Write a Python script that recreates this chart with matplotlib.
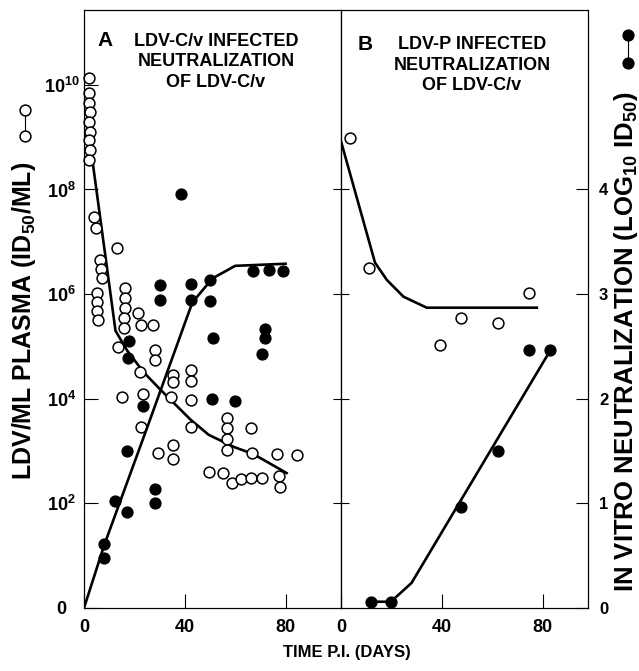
import matplotlib
matplotlib.use("Agg")
import matplotlib.pyplot as plt
from matplotlib.lines import Line2D

plt.rcParams['font.family'] = ['Liberation Sans', 'DejaVu Sans']
plt.rcParams['font.weight'] = 'bold'
plt.rcParams['mathtext.fontset'] = 'custom'
plt.rcParams['mathtext.rm'] = 'Liberation Sans:bold'
plt.rcParams['mathtext.bf'] = 'Liberation Sans:bold'
plt.rcParams['mathtext.it'] = 'Liberation Sans:bold'

# パネルA: LDV-C/v 感染 (血漿中ウイルス, log10 ID50/ml)
a_open_day = [2, 2, 2, 2.5, 2, 2.5, 2, 2.5, 2, 4.1, 4.9, 6.5, 6.9, 7.3,
              5.3, 5.3, 5.3, 5.6, 12.9, 16.2, 16.2, 16.2, 16.0, 16.0,
              21.5, 22.8, 27.2, 13.3, 28, 28, 22.4, 35.5, 35.5, 34.4,
              42.6, 42.6, 42.6, 15.2, 23.5, 22.7, 42.6, 35.5, 35.5, 29.3,
              56.6, 56.6, 56.6, 56.6, 66.4, 66.8, 76.5, 84.4, 49.5, 55,
              58.6, 62.5, 66.4, 70.8, 77.4, 77.8]
a_open_log = [10.13, 9.84, 9.65, 9.48, 9.29, 9.10, 8.95, 8.76, 8.57, 7.48,
              7.27, 6.65, 6.48, 6.31, 6.02, 5.85, 5.68, 5.51, 6.88, 6.12,
              5.93, 5.74, 5.54, 5.35, 5.64, 5.41, 5.41, 4.99, 4.93, 4.74,
              4.51, 4.45, 4.32, 4.03, 4.55, 4.34, 3.98, 4.03, 4.09, 3.46,
              3.46, 3.12, 2.85, 2.96, 3.63, 3.44, 3.23, 3.02, 3.44, 2.96,
              2.94, 2.93, 2.60, 2.58, 2.39, 2.47, 2.49, 2.49, 2.52, 2.31]
a_open_fit_day = [1.5, 3.5, 12.5, 17, 23.6, 30.4, 42.3, 49.5, 59.4, 67.3, 80.4]
a_open_fit_log = [9.9, 8.5, 5.3, 4.93, 4.51, 4.17, 3.6, 3.31, 3.08, 2.94, 2.58]

# パネルA: 中和抗体価 (log10 ID50)
a_fill_day = [7.8, 7.8, 12.5, 17.2, 28, 28, 17.2, 23.6, 17.7, 17.3, 30, 30,
              42.3, 42.3, 50.2, 50, 51.3, 51, 60, 72, 72, 70.8, 38.3, 67.2,
              73.4, 79]
a_fill_neut = [0.61, 0.48, 1.02, 0.92, 1.14, 1.00, 1.50, 1.93, 2.55, 2.39,
               3.09, 2.94, 3.10, 2.94, 3.13, 2.93, 2.58, 2.00, 1.98, 2.67,
               2.58, 2.43, 3.96, 3.22, 3.23, 3.22]
a_fill_fit_day = [0, 8, 25, 43, 51, 60, 80]
a_fill_fit_neut = [0, 0.6, 1.72, 2.92, 3.15, 3.27, 3.29]

# パネルB: LDV-P 感染
b_open_day = [3.6, 11.3, 39.3, 47.5, 62.4, 74.7]
b_open_log = [8.99, 6.5, 5.03, 5.54, 5.45, 6.02]
b_open_fit_day = [0, 13.5, 18.2, 24.8, 34, 77.7]
b_open_fit_log = [8.92, 6.6, 6.27, 5.95, 5.74, 5.74]

b_fill_day = [11.8, 19.8, 47.5, 62.4, 74.7, 83]
b_fill_neut = [0.06, 0.06, 0.97, 1.5, 2.47, 2.47]
b_fill_fit_day = [11.8, 19.8, 28, 82]
b_fill_fit_neut = [0.06, 0.06, 0.24, 2.42]

LOG_TOP = 11.43
W, H = 639, 671

fig = plt.figure(figsize=(W / 100, H / 100), dpi=100)
axA = fig.add_axes([84 / W, 63 / H, 257 / W, 598 / H])
axB = fig.add_axes([341 / W, 63 / H, 247 / W, 598 / H])

open_kw = dict(linestyle='none', marker='o', ms=7.8, mfc='white', mec='black',
               mew=1.1, clip_on=False, zorder=4)
fill_kw = dict(linestyle='none', marker='o', ms=7.8, mfc='black', mec='black',
               clip_on=False, zorder=4)
fit_kw = dict(color='black', lw=1.9, zorder=3)

ylog_ticks = [1, 1e2, 1e4, 1e6, 1e8, 1e10]
ylog_labels = ['0', r'$\mathbf{10^{2}}$', r'$\mathbf{10^{4}}$',
               r'$\mathbf{10^{6}}$', r'$\mathbf{10^{8}}$', r'$\mathbf{10^{10}}$']

for ax, xmax in [(axA, 102), (axB, 98)]:
    ax.set_yscale('log')
    ax.set_ylim(1, 10 ** LOG_TOP)
    ax.set_xlim(0, xmax)
    ax.set_xticks([0, 40, 80])
    ax.set_xticklabels(['0', '40', '80'])
    ax.minorticks_off()
    ax.tick_params(axis='x', direction='in', length=10, width=0.8,
                   labelsize=13, pad=8)
    for s in ax.spines.values():
        s.set_linewidth(0.8)

# 左パネルの対数軸
axA.set_yticks(ylog_ticks)
axA.set_yticklabels(ylog_labels)
axA.tick_params(axis='y', direction='in', length=10, width=0.8,
                labelsize=13, pad=16)
for lab in axA.get_yticklabels():
    lab.set_horizontalalignment('center')

# 右パネルの左軸 (目盛りのみ)
axB.set_yticks([1e2, 1e4, 1e6, 1e8])
axB.set_yticklabels([])
axB.tick_params(axis='y', direction='inout', length=12, width=0.8)

axA2 = axA.twinx()
axB2 = axB.twinx()
for ax2 in (axA2, axB2):
    ax2.set_ylim(0, LOG_TOP / 2)
axA2.set_yticks([])
axB2.set_yticks([0, 1, 2, 3, 4])
axB2.tick_params(axis='y', direction='in', length=9, width=0.8,
                 labelsize=12, pad=8)

# プロット
axA.plot(a_open_fit_day, [10 ** v for v in a_open_fit_log], **fit_kw)
axA.plot(a_open_day, [10 ** v for v in a_open_log], **open_kw)
axA2.plot(a_fill_fit_day, a_fill_fit_neut, **fit_kw)
axA2.plot(a_fill_day, a_fill_neut, **fill_kw)

axB.plot(b_open_fit_day, [10 ** v for v in b_open_fit_log], **fit_kw)
axB.plot(b_open_day, [10 ** v for v in b_open_log], **open_kw)
axB2.plot(b_fill_fit_day, b_fill_fit_neut, **fit_kw)
axB2.plot(b_fill_day, b_fill_neut, **fill_kw)

# パネル内の文字
fig.text(97 / W, 1 - 40 / H, 'A', fontsize=15, fontweight='bold', va='center')
fig.text(216 / W, 1 - 62 / H, 'LDV-C/v INFECTED\nNEUTRALIZATION\nOF LDV-C/v',
         fontsize=13, fontweight='bold', ha='center', va='center',
         linespacing=1.25)
fig.text(358 / W, 1 - 44 / H, 'B', fontsize=15, fontweight='bold', va='center')
fig.text(472 / W, 1 - 65 / H, 'LDV-P INFECTED\nNEUTRALIZATION\nOF LDV-C/v',
         fontsize=13, fontweight='bold', ha='center', va='center',
         linespacing=1.25)

# 軸ラベル
fig.text(24 / W, 1 - 321 / H, r'LDV/ML PLASMA (ID$_{\mathbf{50}}$/ML)',
         rotation=90, fontsize=18, fontweight='bold', ha='center', va='center')
fig.text(626 / W, 1 - 342 / H,
         r'IN VITRO NEUTRALIZATION (LOG$_{\mathbf{10}}$ ID$_{\mathbf{50}}$)',
         rotation=90, fontsize=18.5, fontweight='bold', ha='center', va='center')
fig.text(347 / W, 1 - 653 / H, 'TIME P.I. (DAYS)', fontsize=12,
         fontweight='bold', ha='center', va='center')

# 凡例記号
fig.add_artist(Line2D([25 / W, 25 / W], [1 - 110 / H, 1 - 136 / H],
                      transform=fig.transFigure, color='black', lw=0.8,
                      marker='o', ms=7.8, mfc='white', mec='black', mew=1.1))
fig.add_artist(Line2D([628 / W, 628 / W], [1 - 35 / H, 1 - 63 / H],
                      transform=fig.transFigure, color='black', lw=0.8,
                      marker='o', ms=7.8, mfc='black', mec='black'))

plt.savefig("out.png", dpi=100)
